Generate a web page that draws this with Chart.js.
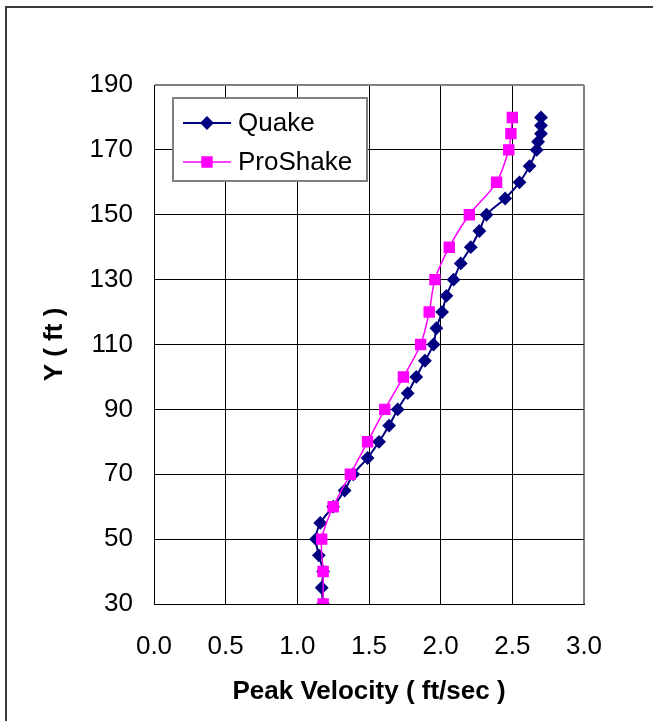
<!DOCTYPE html>
<html>
<head>
<meta charset="utf-8">
<script src="https://cdn.jsdelivr.net/npm/chart.js@4"></script>
<style>
    html, body { margin: 0; padding: 0; background: #fff; }
    #wrap { width: 653px; height: 721px; position: relative; }
</style>
</head>
<body>
<div id="wrap"><canvas id="chart" width="653" height="721"></canvas></div>
<script>
// depth (ft) and peak velocity (ft/sec)
const quakeDepth = [30, 35, 40, 45, 50, 55, 60, 65, 70, 75, 80, 85, 90, 95, 100, 105, 110, 115, 120, 125, 130, 135, 140, 145, 150, 155, 160, 165, 170, 172.5, 175, 177.5, 180];
const quakeVel = [1.18, 1.17, 1.18, 1.15, 1.13, 1.16, 1.25, 1.33, 1.39, 1.49, 1.57, 1.64, 1.70, 1.77, 1.83, 1.89, 1.95, 1.97, 2.01, 2.04, 2.09, 2.14, 2.21, 2.27, 2.32, 2.45, 2.55, 2.62, 2.67, 2.68, 2.70, 2.70, 2.70];

const proDepth = [30, 40, 50, 60, 70, 80, 90, 100, 110, 120, 130, 140, 150, 160, 170, 175, 180];
const proVel = [1.18, 1.18, 1.17, 1.25, 1.37, 1.49, 1.61, 1.74, 1.86, 1.92, 1.96, 2.06, 2.20, 2.39, 2.475, 2.49, 2.50];

const xTicks = [0, 0.5, 1.0, 1.5, 2.0, 2.5, 3.0];
const yTicks = [30, 50, 70, 90, 110, 130, 150, 170, 190];

const seriesNames = ['Quake', 'ProShake'];

const toPoints = (xs, ys) => xs.map((x, i) => ({ x: x, y: ys[i] }));

const FONT = 'Arial, "Liberation Sans", sans-serif';

// white page with the outer frame (left + top edge)
const framePlugin = {
    id: 'frame',
    beforeDraw: (chart) => {
        const ctx = chart.ctx;
        ctx.save();
        ctx.fillStyle = '#fff';
        ctx.fillRect(0, 0, chart.width, chart.height);
        ctx.strokeStyle = '#3a3a3a';
        ctx.lineWidth = 2;
        ctx.beginPath();
        ctx.moveTo(6, chart.height);
        ctx.lineTo(6, 7);
        ctx.lineTo(chart.width, 7);
        ctx.stroke();
        ctx.restore();
    }
};

// legend box drawn inside the plot area
const insideLegend = {
    id: 'insideLegend',
    afterDraw: (chart) => {
        const ctx = chart.ctx;
        const box = { x: 173, y: 98, w: 194, h: 83 };
        ctx.save();
        ctx.fillStyle = '#fff';
        ctx.fillRect(box.x, box.y, box.w, box.h);
        ctx.strokeStyle = '#808080';
        ctx.lineWidth = 2;
        ctx.strokeRect(box.x, box.y, box.w, box.h);

        const rows = [
            { ds: chart.data.datasets.find(d => d.label === seriesNames[0]), y: 123 },
            { ds: chart.data.datasets.find(d => d.label === seriesNames[1]), y: 162 }
        ];
        rows.forEach(row => {
            ctx.strokeStyle = row.ds.borderColor;
            ctx.lineWidth = row.ds.borderWidth;
            ctx.beginPath();
            ctx.moveTo(183, row.y);
            ctx.lineTo(231, row.y);
            ctx.stroke();
            ctx.fillStyle = row.ds.pointBackgroundColor;
            ctx.strokeStyle = row.ds.pointBorderColor;
            Chart.helpers.drawPoint(ctx, {
                pointStyle: row.ds.pointStyle,
                radius: row.ds.pointRadius,
                borderWidth: 1,
                rotation: 0
            }, 207, row.y);
            ctx.fillStyle = '#000';
            ctx.font = '26px ' + FONT;
            ctx.textBaseline = 'middle';
            ctx.textAlign = 'left';
            ctx.fillText(row.ds.label, 238, row.y + 1);
        });
        ctx.restore();
    }
};

const gridColor = (ctx, maxVal) => (ctx.tick && ctx.tick.value === maxVal) ? '#808080' : '#000';
const gridWidth = (ctx, maxVal) => (ctx.tick && ctx.tick.value === maxVal) ? 2 : 1;

new Chart(document.getElementById('chart').getContext('2d'), {
    type: 'scatter',
    data: {
        datasets: [{
            label: seriesNames[1],
            data: toPoints(proVel, proDepth),
            showLine: true,
            tension: 0.3,
            borderColor: '#ff00ff',
            borderWidth: 1.5,
            pointStyle: 'rect',
            pointRadius: 7,
            pointHoverRadius: 7,
            pointBackgroundColor: '#ff00ff',
            pointBorderColor: '#ff00ff',
            order: 0
        }, {
            label: seriesNames[0],
            data: toPoints(quakeVel, quakeDepth),
            showLine: true,
            tension: 0.3,
            borderColor: '#000080',
            borderWidth: 2,
            pointStyle: 'rectRot',
            pointRadius: 5.5,
            pointHoverRadius: 5.5,
            pointBackgroundColor: '#000080',
            pointBorderColor: '#000080',
            order: 1
        }]
    },
    options: {
        responsive: false,
        animation: false,
        layout: { padding: { left: 0, top: 85, right: 69, bottom: 0 } },
        plugins: {
            legend: { display: false },
            tooltip: { enabled: false }
        },
        scales: {
            x: {
                type: 'linear',
                min: xTicks[0],
                max: xTicks[xTicks.length - 1],
                afterFit: (scale) => { scale.height = 117; },
                afterBuildTicks: (scale) => { scale.ticks = xTicks.map(v => ({ value: v })); },
                ticks: {
                    padding: 27,
                    color: '#000',
                    font: { family: FONT, size: 26 },
                    maxRotation: 0,
                    callback: (v) => Number(v).toFixed(1)
                },
                grid: {
                    drawTicks: false,
                    color: (ctx) => gridColor(ctx, xTicks[xTicks.length - 1]),
                    lineWidth: (ctx) => gridWidth(ctx, xTicks[xTicks.length - 1])
                },
                border: { color: '#000', width: 1 },
                title: {
                    display: true,
                    text: 'Peak Velocity ( ft/sec )',
                    color: '#000',
                    font: { family: FONT, size: 26, weight: 'bold' },
                    padding: { top: 0, bottom: 14 }
                }
            },
            y: {
                type: 'linear',
                min: yTicks[0],
                max: yTicks[yTicks.length - 1],
                afterFit: (scale) => { scale.width = 154; },
                afterBuildTicks: (scale) => { scale.ticks = yTicks.map(v => ({ value: v })); },
                ticks: {
                    padding: 21,
                    color: '#000',
                    font: { family: FONT, size: 26 }
                },
                grid: {
                    drawTicks: false,
                    color: (ctx) => gridColor(ctx, yTicks[yTicks.length - 1]),
                    lineWidth: (ctx) => gridWidth(ctx, yTicks[yTicks.length - 1])
                },
                border: { color: '#000', width: 1 },
                title: {
                    display: true,
                    text: 'Y ( ft )',
                    color: '#000',
                    font: { family: FONT, size: 26, weight: 'bold' },
                    padding: { top: 39, bottom: 0 }
                }
            }
        }
    },
    plugins: [framePlugin, insideLegend]
});
</script>
</body>
</html>
